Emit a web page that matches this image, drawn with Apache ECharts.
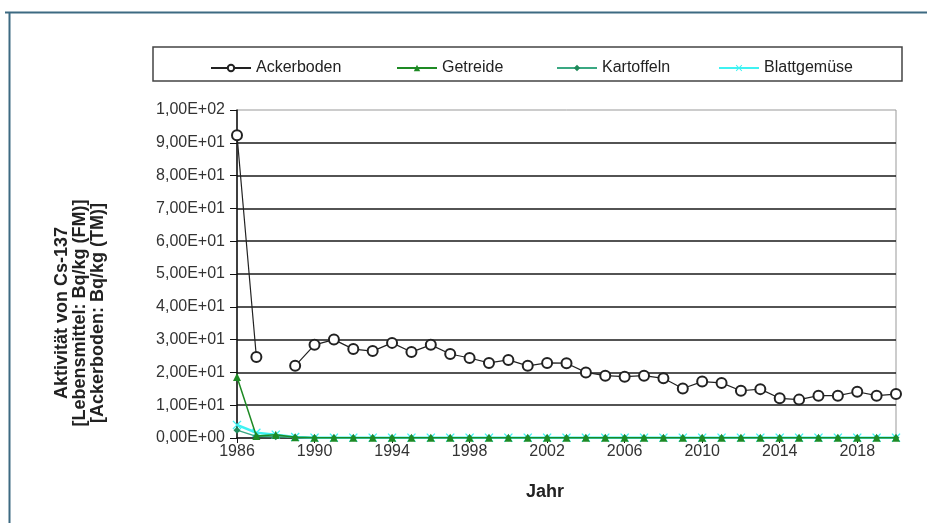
<!DOCTYPE html>
<html><head><meta charset="UTF-8">
<title>Cs-137</title>
<style>html,body{margin:0;padding:0;background:#fff}#chart{width:927px;height:523px}</style>
<script src="https://cdn.jsdelivr.net/npm/echarts@6/dist/echarts.min.js"></script>
</head>
<body>
<div id="chart"></div>
<script>
const years = [];
for (let y = 1986; y <= 2020; y++) years.push(String(y));

const ackerboden = [92.3, 24.7, null, 22.0, 28.4, 30.0, 27.1, 26.5, 29.0, 26.2,
    28.4, 25.6, 24.4, 22.9, 23.8, 22.0, 22.9, 22.8, 20.0, 19.0,
    18.7, 19.0, 18.2, 15.1, 17.2, 16.8, 14.4, 14.9, 12.1, 11.7,
    12.9, 12.9, 14.1, 12.9, 13.4];
const getreide = [18.6, 0.6, 1.0, 0.2, 0.1, 0.1, 0.1, 0.1, 0.1, 0.1,
    0.1, 0.1, 0.1, 0.1, 0.1, 0.1, 0.1, 0.1, 0.1, 0.1,
    0.1, 0.1, 0.1, 0.1, 0.1, 0.1, 0.1, 0.1, 0.1, 0.1,
    0.1, 0.1, 0.1, 0.1, 0.1];
const kartoffeln = [2.4, 0.5, 0.4, 0.2, 0.1, 0.1, 0.1, 0.1, 0.1, 0.1,
    0.1, 0.1, 0.1, 0.1, 0.1, 0.1, 0.1, 0.1, 0.1, 0.1,
    0.1, 0.1, 0.1, 0.1, 0.1, 0.1, 0.1, 0.1, 0.1, 0.1,
    0.1, 0.1, 0.1, 0.1, 0.1];
const blattgemuese = [4.0, 1.6, 1.0, 0.3, 0.1, 0.1, 0.1, 0.1, 0.1, 0.1,
    0.1, 0.1, 0.1, 0.1, 0.1, 0.1, 0.1, 0.1, 0.1, 0.1,
    0.1, 0.1, 0.1, 0.1, 0.1, 0.1, 0.1, 0.1, 0.1, 0.1,
    0.1, 0.1, 0.1, 0.1, 0.1];
const seriesNames = ['Ackerboden', 'Getreide', 'Kartoffeln', 'Blattgemüse'];
const yTitle = ['Aktivität von Cs-137', '[Lebensmittel: Bq/kg (FM)]', '[Ackerboden: Bq/kg (TM)]'];

const FONT = '"Liberation Sans", Arial, sans-serif';
const crossPath = 'path://M0,1L1,0L5,4L9,0L10,1L6,5L10,9L9,10L5,6L1,10L0,9L4,5Z';

// 1,00E+02 style
function sci(v) {
    if (v === 0) return '0,00E+00';
    const e = Math.floor(Math.log10(v));
    const m = (v / Math.pow(10, e)).toFixed(2).replace('.', ',');
    return m + 'E' + (e < 0 ? '-' : '+') + String(Math.abs(e)).padStart(2, '0');
}

function legendAt(name, left) {
    return {
        data: [name], left: left, top: 55,
        itemWidth: 40, itemHeight: 8, itemGap: 4,
        textStyle: { fontFamily: FONT, fontSize: 16, color: '#222' }
    };
}

const chart = echarts.init(document.getElementById('chart'));
chart.setOption({
    animation: false,
    backgroundColor: '#fff',
    grid: { left: 237, right: 31, top: 110, bottom: 85, show: true, borderColor: '#999', borderWidth: 1 },
    legend: [
        legendAt('Ackerboden', 205),
        legendAt('Getreide', 391),
        legendAt('Kartoffeln', 551),
        legendAt('Blattgemüse', 713)
    ],
    graphic: [
        { type: 'rect', shape: { x: 153, y: 47, width: 749, height: 34 }, style: { fill: 'none', stroke: '#444', lineWidth: 1.5 }, z: -1 },
        { type: 'line', shape: { x1: 5, y1: 12.5, x2: 927, y2: 12.5 }, style: { stroke: '#3d6a82', lineWidth: 2 } },
        { type: 'line', shape: { x1: 9.5, y1: 12, x2: 9.5, y2: 523 }, style: { stroke: '#3d6a82', lineWidth: 2 } },
        {
            type: 'text', x: 80, y: 313, rotation: Math.PI / 2,
            style: {
                text: yTitle.join('\n'), fontFamily: FONT, fontSize: 18, fontWeight: 'bold',
                lineHeight: 18, fill: '#222', align: 'center', verticalAlign: 'middle'
            }
        },
        {
            type: 'text', x: 545, y: 492,
            style: { text: 'Jahr', fontFamily: FONT, fontSize: 18, fontWeight: 'bold', fill: '#222', align: 'center', verticalAlign: 'middle' }
        }
    ],
    xAxis: {
        type: 'category', data: years, boundaryGap: false,
        axisLine: { lineStyle: { color: '#111', width: 1.5 } },
        axisTick: { interval: 3, length: 5, lineStyle: { color: '#111' } },
        axisLabel: { interval: 3, fontFamily: FONT, fontSize: 16, color: '#333', margin: 6 },
        splitLine: { show: false }
    },
    yAxis: {
        type: 'value', min: 0, max: 100, interval: 10,
        axisLine: { show: true, lineStyle: { color: '#111', width: 1.5 } },
        axisTick: { show: true, length: 7, lineStyle: { color: '#111' } },
        axisLabel: { fontFamily: FONT, fontSize: 16, color: '#333', margin: 12, formatter: sci },
        splitLine: { show: true, showMaxLine: false, showMinLine: false, lineStyle: { color: '#1a1a1a', width: 1.5 } }
    },
    series: [
        {
            name: seriesNames[0], type: 'line', data: ackerboden, z: 5,
            symbol: 'emptyCircle', symbolSize: 10,
            lineStyle: { color: '#222', width: 1.2 },
            itemStyle: { color: '#222', borderColor: '#222', borderWidth: 1.1 }
        },
        {
            name: seriesNames[1], type: 'line', data: getreide, z: 4,
            symbol: 'triangle', symbolSize: 8,
            lineStyle: { color: '#1e8a24', width: 1.5 },
            itemStyle: { color: '#1e8a24' }
        },
        {
            name: seriesNames[2], type: 'line', data: kartoffeln, z: 3,
            symbol: 'diamond', symbolSize: 7,
            lineStyle: { color: '#3aa882', width: 1.5 },
            itemStyle: { color: '#1f8a5a' }
        },
        {
            name: seriesNames[3], type: 'line', data: blattgemuese, z: 2,
            symbol: crossPath, symbolSize: 9,
            lineStyle: { color: '#3ff2f2', width: 2.5 },
            itemStyle: { color: '#3ff2f2' }
        }
    ]
});
</script>
</body></html>
